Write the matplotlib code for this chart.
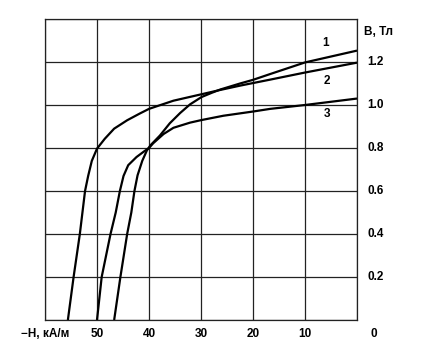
import matplotlib
matplotlib.use("Agg")
import matplotlib.pyplot as plt

# Curve data: -H (kA/m) and B (T)
h1 = [46.7, 45.5, 44.2, 43.4, 42.8, 42.2, 41.3, 40.4, 39.7, 37.9, 36.0, 34.0, 32.1, 29.9, 27.9, 26.3, 22.5, 20.0, 16.7, 10.0, 0.0]
b1 = [0.00, 0.20, 0.40, 0.50, 0.60, 0.673, 0.74, 0.789, 0.813, 0.858, 0.915, 0.963, 1.003, 1.037, 1.057, 1.072, 1.10, 1.117, 1.144, 1.198, 1.253]

h2 = [55.6, 54.5, 53.3, 52.3, 51.7, 51.0, 50.0, 48.5, 46.7, 44.2, 41.8, 40.0, 35.3, 29.9, 26.3, 22.5, 16.7, 10.0, 0.0]
b2 = [0.00, 0.20, 0.40, 0.60, 0.67, 0.74, 0.797, 0.843, 0.89, 0.929, 0.96, 0.982, 1.02, 1.05, 1.07, 1.09, 1.118, 1.151, 1.197]

h3 = [50.0, 49.1, 47.4, 46.4, 45.6, 44.9, 44.0, 42.4, 40.9, 40.0, 39.2, 37.2, 35.3, 32.1, 29.9, 25.7, 19.9, 16.7, 10.0, 0.0]
b3 = [0.00, 0.20, 0.40, 0.50, 0.60, 0.67, 0.72, 0.758, 0.785, 0.80, 0.822, 0.865, 0.894, 0.918, 0.930, 0.950, 0.970, 0.982, 1.00, 1.03]

curve_labels = ["1", "2", "3"]
label_pos_h = [6.0, 5.8, 5.8]
label_pos_b = [1.29, 1.11, 0.957]

x_ticks = [50, 40, 30, 20, 10]
y_ticks = [0.2, 0.4, 0.6, 0.8, 1.0, 1.2]
x_label = "\u2212H, кА/м"
y_label = "B, Тл"

plt.rcParams['font.family'] = ['Liberation Sans', 'DejaVu Sans']
fig = plt.figure(figsize=(4.22, 3.56), dpi=100)
ax = fig.add_axes([45/422, 1-320/356, (357-45)/422, (320-19)/356])

ax.set_xlim(60, 0)
ax.set_ylim(0, 1.4)
ax.set_xticks([60, 50, 40, 30, 20, 10, 0])
ax.set_yticks([0, 0.2, 0.4, 0.6, 0.8, 1.0, 1.2, 1.4])
ax.grid(True, color='#222222', lw=0.9)
ax.tick_params(length=0, labelbottom=False, labelleft=False)
for s in ax.spines.values():
    s.set_color('#222222')
    s.set_linewidth(0.9)

for h, b in [(h1, b1), (h2, b2), (h3, b3)]:
    ax.plot(h, b, color='black', lw=1.6, solid_joinstyle='round',
            solid_capstyle='butt', zorder=3)

fs = 8.5
for t, hx, by in zip(curve_labels, label_pos_h, label_pos_b):
    ax.text(hx, by, t, fontsize=fs, fontweight='bold', ha='center', va='center')

for xv in x_ticks:
    ax.text(xv, -0.065, str(xv), fontsize=fs, fontweight='bold', ha='center', va='center')
ax.text(60, -0.065, x_label, fontsize=fs, fontweight='bold', ha='center', va='center')
ax.text(-3.3, -0.065, "0", fontsize=fs, fontweight='bold', ha='center', va='center')

for yv in y_ticks:
    ax.text(-2.0, yv, f"{yv:.1f}", fontsize=fs, fontweight='bold', ha='left', va='center')
ax.text(-1.4, 1.34, y_label, fontsize=fs, fontweight='bold', ha='left', va='center')

fig.savefig("out.png", dpi=100)
